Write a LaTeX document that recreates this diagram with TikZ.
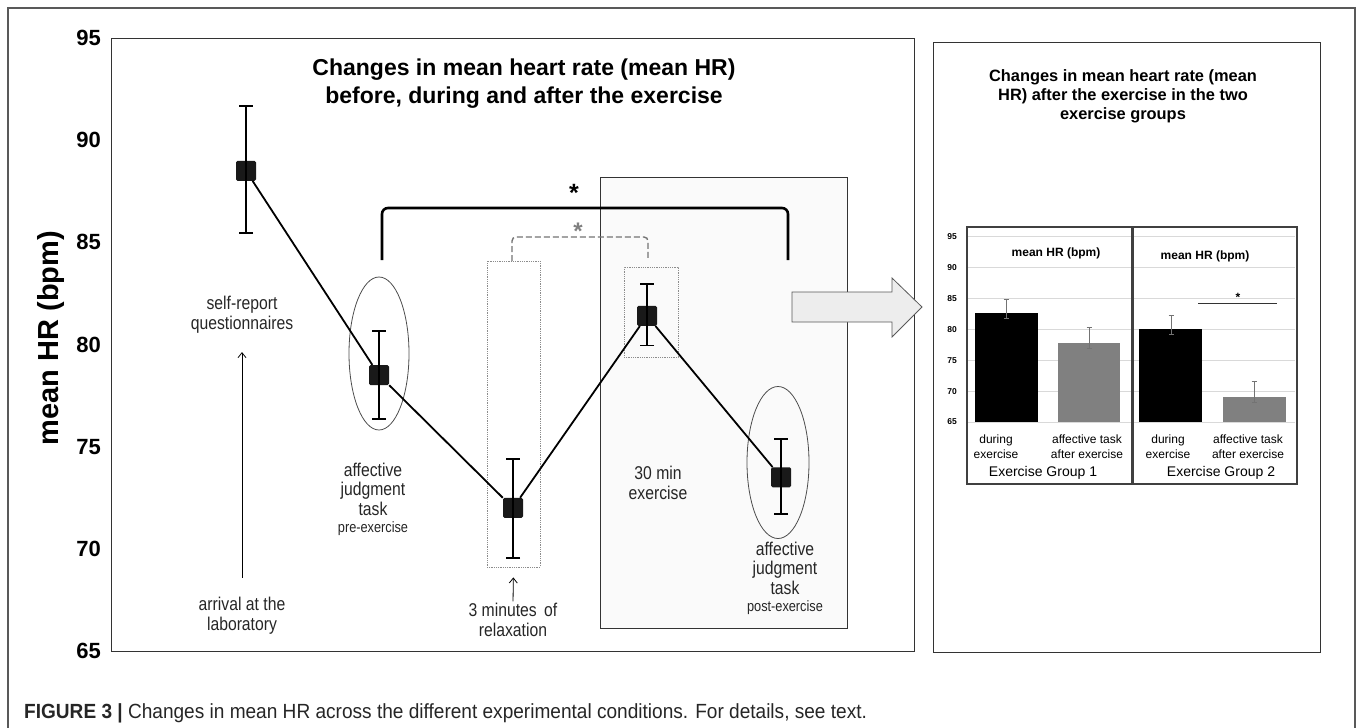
\documentclass[tikz,border=0pt]{standalone}
\usepackage{fontspec}
\setmainfont{Liberation Sans}
\newfontfamily\narrowfont[FakeStretch=0.85]{Liberation Sans}
\newfontfamily\captionfont[FakeStretch=0.93]{Liberation Sans}
\usetikzlibrary{positioning}
\usetikzlibrary{arrows.meta}
\usetikzlibrary{shapes.geometric}

\begin{document}
\begin{tikzpicture}[x=1pt, y=-1pt, >={Straight Barb[length=5pt, width=8pt]},
    declare function={hr(\v) = 38+(95-\v)*20.43; bar(\v) = 422-(\v-65)*6.18;}]
    \tikzstyle{frame}=[draw=black!80, line width=1pt]
    \tikzstyle{marker}=[rectangle, fill=black!90, minimum size=20pt, inner sep=0pt, rounded corners=1.5pt]
    \tikzstyle{errbar}=[line width=1.8pt, {Bar[width=14pt]}-{Bar[width=14pt]}]
    \tikzstyle{smallerr}=[draw=black!55, line width=0.9pt, {Bar[width=5pt]}-{Bar[width=5pt]}]
    \tikzstyle{ticklabel}=[anchor=east, inner sep=0pt, font=\bfseries\fontsize{22}{26}\selectfont]
    \tikzstyle{note}=[align=center, inner sep=0pt, text=black!85, font=\narrowfont\fontsize{18.5}{19.5}\selectfont]
    \tikzstyle{dotbox}=[draw=black!45, densely dotted, line width=0.8pt, rectangle, inner sep=0pt]
    \tikzstyle{ring}=[draw=black!70, ellipse, line width=0.8pt, inner sep=0pt]
    \tikzstyle{uparrow}=[->, line width=0.8pt]
    \tikzstyle{bracket}=[line width=2.6pt, rounded corners=6pt]
    \tikzstyle{dbracket}=[draw=black!55, dash pattern=on 6pt off 3pt, line width=1.4pt, rounded corners=4pt]
    \tikzstyle{barlabel}=[align=center, inner sep=0pt, font=\fontsize{12}{15}\selectfont]

    \useasboundingbox (0,0) rectangle (1357,728);
    \draw[draw=black!65, line width=1.2pt] (8,740) -- (8,8) -- (1355,8) -- (1355,740);

    % left chart
    \draw[frame] (111,38) rectangle (914,651);
    \node[rectangle, draw=black!80, fill=black!2, line width=1pt, inner sep=0pt,
          minimum width=247pt, minimum height=451pt] (exbox) at (723.5,402.5) {};
    \foreach \v in {65,70,...,95}
        \node[ticklabel] (t\v) at (101,{hr(\v)}) {\v};
    \node[rotate=90, font=\bfseries\fontsize{29}{34}\selectfont] (ylab) at (51,338) {mean HR (bpm)};
    \node[align=center, font=\bfseries\fontsize{23}{28}\selectfont] (title) at (524,84)
        {Changes in mean heart rate (mean HR)\\before, during and after the exercise};

    \node[dotbox, minimum width=53pt, minimum height=306pt] (relaxbox) at (513.5,414) {};
    \node[dotbox, minimum width=54pt, minimum height=90pt] (peakbox) at (651,312) {};
    \node[ring, minimum width=60pt, minimum height=153pt] (prering) at (379,353.5) {};
    \node[ring, minimum width=62pt, minimum height=152pt] (postring) at (778,462.5) {};

    \coordinate (bl) at (382,260);
    \coordinate (bt) at (585,208);
    \coordinate (br) at (788,260);
    \draw[bracket] (bl) |- (bt) -| (br);
    \node[anchor=base, font=\bfseries\fontsize{25}{28}\selectfont] (star) at (574,201) {*};
    \coordinate (dl) at (512,261);
    \coordinate (dt) at (580,237);
    \coordinate (dr) at (648,260);
    \draw[dbracket] (dl) |- (dt) -| (dr);
    \node[anchor=base, text=black!50, font=\bfseries\fontsize{24}{28}\selectfont] (gstar) at (578,239) {*};

    \foreach \name/\x/\m/\lo/\hi in {p1/246/88.5/85.4/91.7, p2/379/78.5/76.3/80.7,
        p3/513/72/69.5/74.45, p4/647/81.4/79.9/83.0, p5/781/73.5/71.65/75.4} {
        \coordinate (\name lo) at (\x,{hr(\lo)});
        \coordinate (\name hi) at (\x,{hr(\hi)});
        \node[marker] (\name) at (\x,{hr(\m)}) {};
        \draw[errbar] (\name lo) -- (\name hi);
    }
    \draw[line width=1.8pt] (p1) -- (p2) -- (p3) -- (p4) -- (p5);

    \node[note] (selfrep) at (242,314.5) {self-report\\questionnaires};
    \node[note] (arrival) at (242,615.5) {arrival at the\\laboratory};
    \draw[uparrow, shorten <=19pt, shorten >=19pt] (arrival.north) -- (selfrep.south);
    \node[note] (pretask) at (373,499.5)
        {affective\\judgment\\task\\[-2pt]{\fontsize{15}{16}\selectfont pre-exercise}};
    \node[note] (relaxtxt) at (513,620) {3 minutes\, of\\relaxation};
    \draw[uparrow, shorten <=2pt, shorten >=10pt] (relaxtxt.north) -- (relaxbox.south);
    \node[note] (extxt) at (658,483) {30 min\\exercise};
    \node[note] (posttask) at (785,578.5)
        {affective\\judgment\\task\\[-2pt]{\fontsize{15}{16}\selectfont post-exercise}};

    \draw[draw=black!65, fill=black!7, line width=0.8pt] (792,292) -- (892,292) -- (892,278)
        -- (922,307) -- (892,337) -- (892,322) -- (792,322) -- cycle;

    % right chart
    \draw[frame] (933,42) rectangle (1320,652);
    \node[align=center, font=\bfseries\fontsize{16.4}{19}\selectfont] (rtitle) at (1123,96)
        {Changes in mean heart rate (mean\\HR) after the exercise in the two\\exercise groups};
    \foreach \v in {65,70,...,95} {
        \draw[draw=black!15, line width=0.8pt] (968,{bar(\v)}) -- (1295,{bar(\v)});
        \node[font=\bfseries\fontsize{8.5}{10}\selectfont] (b\v) at (952,{bar(\v)}) {\v};
    }
    \fill[black] (975,{bar(65)}) rectangle (1038,{bar(82.6)});
    \fill[black!50] (1058,{bar(65)}) rectangle (1120,{bar(77.8)});
    \fill[black] (1139,{bar(65)}) rectangle (1202,{bar(80.0)});
    \fill[black!50] (1223,{bar(65)}) rectangle (1286,{bar(69.0)});
    \draw[smallerr] (1006,{bar(81.7)}) -- (1006,{bar(84.9)});
    \draw[smallerr] (1089,{bar(76.8)}) -- (1089,{bar(80.4)});
    \draw[smallerr] (1171,{bar(79.1)}) -- (1171,{bar(82.3)});
    \draw[smallerr] (1254,{bar(68.1)}) -- (1254,{bar(71.6)});
    \draw[draw=black!75, line width=1.2pt] (967,227) rectangle (1132,484);
    \draw[draw=black!75, line width=1.2pt] (1133,227) rectangle (1297,484);
    \node[font=\bfseries\fontsize{12}{14}\selectfont] (g1head) at (1056,253) {mean HR (bpm)};
    \node[font=\bfseries\fontsize{12}{14}\selectfont] (g2head) at (1205,256) {mean HR (bpm)};
    \coordinate (sl) at (1198,303);
    \coordinate (sr) at (1277,303);
    \draw[draw=black!80, line width=0.8pt] (sl) -- (sr);
    \node[anchor=base, font=\bfseries\fontsize{12}{14}\selectfont] (sigstar) at (1238,301) {*};
    \node[barlabel] (g1a) at (996,446.5) {during\\exercise};
    \node[barlabel] (g1b) at (1087,446.5) {affective task\\after exercise};
    \node[barlabel] (g2a) at (1168,446.5) {during\\exercise};
    \node[barlabel] (g2b) at (1248,446.5) {affective task\\after exercise};
    \node[font=\fontsize{14}{16}\selectfont] (g1) at (1043,473) {Exercise Group 1};
    \node[font=\fontsize{14}{16}\selectfont] (g2) at (1221,473) {Exercise Group 2};

    \node[anchor=west, inner sep=0pt, text=black!85, font=\captionfont\fontsize{20.5}{23}\selectfont] (caption) at (24,713)
        {\textbf{FIGURE 3} \textbf{|} Changes in mean HR across the different experimental conditions. For details, see text.};
\end{tikzpicture}
\end{document}
